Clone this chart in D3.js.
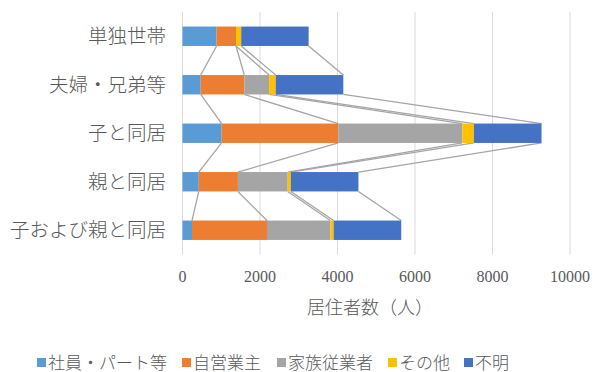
<!DOCTYPE html>
<html><head><meta charset="utf-8">
<script src="https://cdn.jsdelivr.net/npm/d3@7"></script>
<style>
html,body{margin:0;padding:0;background:#fff;}
svg{display:block;}
text{font-family:"Liberation Serif","Noto Sans CJK JP",serif;fill:#595959;font-weight:300;}
</style></head>
<body>
<svg id="chart" width="596" height="372"></svg>
<script>
const categories = ["単独世帯","夫婦・兄弟等","子と同居","親と同居","子および親と同居"];
const seriesNames = ["社員・パート等","自営業主","家族従業者","その他","不明"];
const seriesColors = ["#5B9BD5","#ED7D31","#A5A5A5","#FFC000","#4472C4"];
const employees   = [880, 470, 1010, 420, 245];
const selfEmployed = [500, 1125, 3010, 1010, 1935];
const familyWorkers = [0, 640, 3200, 1285, 1635];
const others = [135, 170, 300, 80, 85];
const unknown = [1740, 1745, 1745, 1745, 1745];
const xTicks = [0, 2000, 4000, 6000, 8000, 10000];
const xTitle = "居住者数（人）";

const seriesValues = [employees, selfEmployed, familyWorkers, others, unknown];
const rows = categories.map((c,i)=>{const o={cat:c}; seriesNames.forEach((s,j)=>o[s]=seriesValues[j][i]); return o;});
const stacked = d3.stack().keys(seriesNames)(rows);

const svg = d3.select("#chart");
const x = d3.scaleLinear().domain([0,10000]).range([182.5,570]);
const y = d3.scaleBand().domain(categories).range([12,254.5]).paddingInner(0.6).paddingOuter(0.3);

// gridlines
svg.append("g").selectAll("line").data(xTicks).join("line")
  .attr("x1",d=>x(d)).attr("x2",d=>x(d)).attr("y1",12).attr("y2",254.5)
  .attr("stroke","#D9D9D9").attr("stroke-width",1);

// tick labels
svg.append("g").selectAll("text").data(xTicks).join("text")
  .attr("x",d=>x(d)).attr("y",282).attr("text-anchor","middle")
  .style("font-size","16px").text(d=>d);

// axis title
svg.append("text").attr("x",370).attr("y",314).attr("text-anchor","middle")
  .style("font-size","18px").text(xTitle);

// category labels
svg.append("g").selectAll("text").data(categories).join("text")
  .attr("x",166).attr("y",d=>y(d)+y.bandwidth()/2).attr("dy","0.36em")
  .attr("text-anchor","end").style("font-size","19.5px").text(d=>d);

// series lines
const lineG = svg.append("g");
stacked.forEach(layer=>{
  for(let i=0;i<categories.length-1;i++){
    const a = layer[i], b = layer[i+1];
    lineG.append("line")
      .attr("x1",x(a[1])).attr("y1",y(categories[i])+y.bandwidth())
      .attr("x2",x(b[1])).attr("y2",y(categories[i+1]))
      .attr("stroke","#A5A5A5").attr("stroke-width",1.3);
  }
});

// bars
svg.append("g").selectAll("g").data(stacked).join("g")
  .attr("fill",(d,i)=>seriesColors[i])
  .selectAll("rect").data(d=>d).join("rect")
  .attr("x",d=>x(d[0])).attr("width",d=>x(d[1])-x(d[0]))
  .attr("y",d=>y(d.data.cat)).attr("height",y.bandwidth());

// legend
const legendPos = [37, 182, 277, 388, 464];
const lg = svg.append("g");
seriesNames.forEach((s,i)=>{
  lg.append("rect").attr("x",legendPos[i]).attr("y",358).attr("width",9).attr("height",9).attr("fill",seriesColors[i]);
  lg.append("text").attr("x",legendPos[i]+11).attr("y",363).attr("dy","0.36em")
    .style("font-size","17px").text(s);
});
</script>
</body></html>
